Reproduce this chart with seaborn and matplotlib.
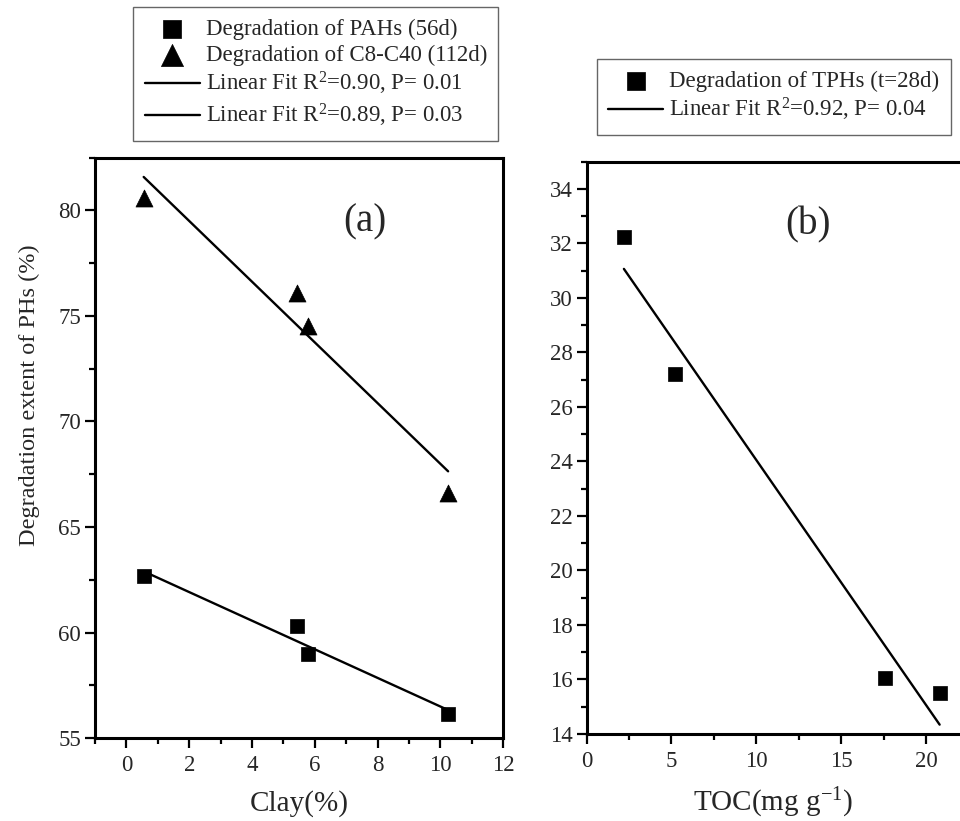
import matplotlib
matplotlib.use("Agg")
import matplotlib.pyplot as plt
from matplotlib.ticker import MultipleLocator
import seaborn as sns
import numpy as np

# (a) degradation vs clay content
clay = [0.55, 5.45, 5.8, 10.25]
pahs_56d = [62.7, 60.3, 59.0, 56.15]
c8_c40_112d = [80.6, 76.1, 74.5, 66.6]

# (b) degradation vs TOC
toc = [2.2, 5.2, 17.6, 20.8]
tphs_28d = [32.25, 27.2, 16.05, 15.5]

labels_a = ['Degradation of PAHs (56d)', 'Degradation of C8-C40 (112d)',
            'Linear Fit R$^2$=0.90, P= 0.01', 'Linear Fit R$^2$=0.89, P= 0.03']
labels_b = ['Degradation of TPHs (t=28d)', 'Linear Fit R$^2$=0.92, P= 0.04']

sns.set_style('ticks')
plt.rcParams['font.family'] = ['Liberation Serif', 'DejaVu Serif']
plt.rcParams['mathtext.fontset'] = 'custom'
plt.rcParams['mathtext.rm'] = 'Liberation Serif'
plt.rcParams['mathtext.it'] = 'Liberation Serif:italic'

fig = plt.figure(figsize=(9.6, 8.21), dpi=100)
ax1 = fig.add_axes([0.099, 0.101, 0.425, 0.707])
ax2 = fig.add_axes([0.611, 0.106, 0.389, 0.697])

sq = {'s': 95, 'edgecolor': 'black', 'linewidths': 0.5, 'alpha': 1}
tri = {'s': 150, 'edgecolor': 'black', 'linewidths': 0.5, 'alpha': 1}
ln = {'lw': 1.7, 'color': 'black'}

sns.regplot(x=clay, y=pahs_56d, ax=ax1, ci=None, marker='s', color='black',
            label=labels_a[0], scatter_kws=sq, line_kws=dict(ln, label=labels_a[2]))
sns.regplot(x=clay, y=c8_c40_112d, ax=ax1, ci=None, marker='^', color='black',
            label=labels_a[1], scatter_kws=tri, line_kws=dict(ln, label=labels_a[3]))
sns.regplot(x=toc, y=tphs_28d, ax=ax2, ci=None, marker='s', color='black',
            label=labels_b[0], scatter_kws=sq, line_kws=dict(ln, label=labels_b[1]))

ax1.set_xlim(-1, 12)
ax1.set_ylim(55, 82.5)
ax1.xaxis.set_major_locator(MultipleLocator(2))
ax1.xaxis.set_minor_locator(MultipleLocator(1))
ax1.yaxis.set_major_locator(MultipleLocator(5))
ax1.yaxis.set_minor_locator(MultipleLocator(2.5))

ax2.set_xlim(0, 22)
ax2.set_ylim(14, 35)
ax2.xaxis.set_major_locator(MultipleLocator(5))
ax2.xaxis.set_minor_locator(MultipleLocator(2.5))
ax2.yaxis.set_major_locator(MultipleLocator(2))
ax2.yaxis.set_minor_locator(MultipleLocator(1))
ax2.spines['right'].set_visible(False)

for ax in (ax1, ax2):
    for sp in ax.spines.values():
        sp.set_linewidth(2.2)
        sp.set_color('black')
    ax.tick_params(which='major', direction='out', length=7, width=1.6,
                   labelsize=16.5, color='black', top=False, right=False)
    ax.tick_params(which='minor', direction='out', length=4, width=1.6,
                   color='black', top=False, right=False)
    ax.tick_params(axis='x', which='major', pad=5)
    ax.tick_params(axis='y', which='major', pad=3)

ax1.set_xlabel('Clay(%)', fontsize=21, labelpad=10)
ax1.set_ylabel('Degradation extent of PHs (%)', fontsize=17.5)
ax1.yaxis.set_label_coords(-0.135, 0.59)
ax2.set_xlabel('TOC(mg g$^{-1}$)', fontsize=21, labelpad=10)

ax1.text(0.662, 0.89, '(a)', transform=ax1.transAxes, ha='center', va='center', fontsize=28)
ax2.text(0.593, 0.89, '(b)', transform=ax2.transAxes, ha='center', va='center', fontsize=28)

def ordered(ax, order):
    h, l = ax.get_legend_handles_labels()
    lookup = dict(zip(l, h))
    return [lookup[k] for k in order], order

leg_kw = dict(loc='center', frameon=True, fancybox=False, framealpha=1,
              edgecolor='#666666', fontsize=16.5, markerscale=1.3,
              handlelength=2.4, handletextpad=0.25, labelspacing=0.2, borderpad=0.5)

h, l = ordered(ax1, labels_a)
leg1 = fig.legend(h, l, bbox_to_anchor=(0.329, 0.91), **leg_kw)
leg1.get_frame().set_linewidth(1.0)

h, l = ordered(ax2, labels_b)
leg2 = fig.legend(h, l, bbox_to_anchor=(0.806, 0.882), **leg_kw)
leg2.get_frame().set_linewidth(1.0)

fig.savefig('out.png', dpi=100)
